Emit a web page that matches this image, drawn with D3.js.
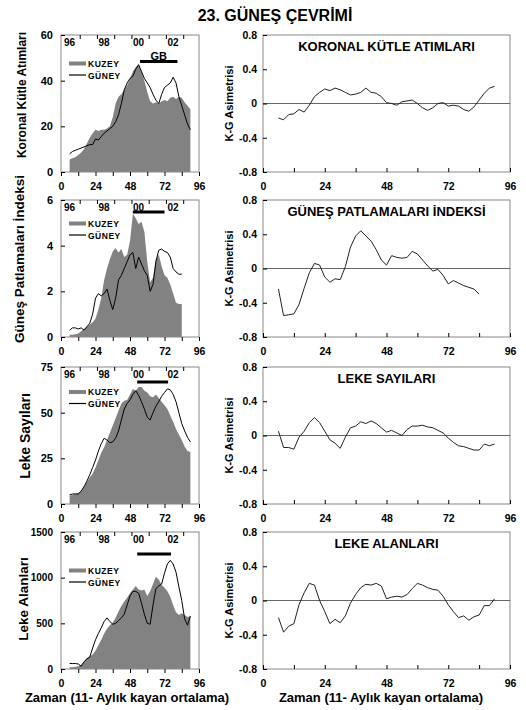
<!DOCTYPE html>
<html>
<head>
<meta charset="utf-8">
<script src="https://cdn.jsdelivr.net/npm/d3@7"></script>
<style>
body { margin: 0; background: #fff; }
svg { display: block; font-family: "Liberation Sans", Arial, sans-serif; font-weight: bold; }
</style>
</head>
<body>
<div class="container"></div>
<script>
const w = 526;
const h = 710;

// months from start of cycle (11-month running mean)
const months = [6, 8, 10, 12, 14, 16, 18, 20, 22, 24, 26, 28, 30, 32, 34, 36, 38, 40, 42, 44, 46, 48,
    50, 52, 54, 56, 58, 60, 62, 64, 66, 68, 70, 72, 74, 76, 78, 80, 82, 84, 86, 88, 90];
const monthsFlare = months.slice(0, 40);

const xTicks = [0, 24, 48, 72, 96];
const xMinorTicks = [0, 12, 24, 36, 48, 60, 72, 84, 96];
const topTicks = [13, 25, 37, 49, 61, 73, 85];
const yearLabels = ['96', '98', '00', '02'];
const yearMonths = [6, 30, 54, 78];
const asymTicks = [-0.8, -0.4, 0, 0.4, 0.8];

// koronal kütle atımları
const cmeNorth = [5.5, 6, 6.5, 7.5, 8.5, 10, 12.5, 15, 17, 18.5, 18, 18.5, 18.5, 19, 20, 24, 30, 33, 34, 36, 38, 41,
    44, 46, 47, 44, 40, 35, 31, 30, 30.5, 30, 31, 31.5, 31, 32.5, 33, 32, 33, 32.5, 30.5, 29, 27.5];
const cmeSouth = [8, 9, 9.5, 10, 10.5, 11, 11.5, 12, 12, 14.5, 14, 15.5, 17, 18, 19, 20, 22, 25, 30, 36, 39, 41,
    42, 45, 47, 44, 41, 39, 37, 34, 31.5, 30, 34, 37, 38, 39, 41.5, 39, 33, 29, 25, 21, 18.5];
const cmeAsym = [-0.17, -0.19, -0.13, -0.12, -0.07, -0.10, -0.02, 0.08, 0.13, 0.17, 0.15, 0.18, 0.16, 0.13, 0.10,
    0.11, 0.13, 0.18, 0.13, 0.12, 0.08, 0.01, 0.00, -0.02, 0.02, 0.03, 0.04, 0.00, -0.05, -0.08, -0.05, 0.00,
    0.01, -0.03, -0.02, -0.03, -0.07, -0.09, -0.04, 0.04, 0.12, 0.18, 0.20];
const cmeTicks = [0, 20, 40, 60];
const cmeBar = [55, 81];

// güneş patlamaları indeksi
const flareNorth = [0.1, 0.1, 0.12, 0.15, 0.25, 0.35, 0.45, 0.55, 0.65, 0.8, 1.2, 1.7, 2.5, 3.0, 3.4, 3.75, 3.9,
    3.7, 3.85, 3.5, 3.6, 4.2, 5.4, 5.2, 4.95, 5.05, 4.6, 3.3, 2.4, 2.6, 3.4, 3.6, 3.1, 2.7, 2.6, 2.3, 1.9, 1.5,
    1.45, 1.45];
const flareSouth = [0.3, 0.4, 0.4, 0.35, 0.4, 0.3, 0.45, 0.6, 1.0, 1.7, 1.9, 1.8, 1.9, 2.1, 1.6, 1.2, 1.7, 2.5,
    2.7, 3.0, 3.3, 3.6, 3.7, 3.0, 3.5, 3.2, 2.9, 2.7, 2.0, 2.3, 3.3, 3.8, 3.85, 3.75, 3.7, 3.5, 3.0, 2.85, 2.75,
    2.75];
const flareAsym = [-0.24, -0.55, -0.54, -0.53, -0.42, -0.23, -0.05, 0.06, 0.04, -0.10, -0.16, -0.12, -0.13, 0.02,
    0.25, 0.38, 0.44, 0.38, 0.32, 0.22, 0.10, 0.04, 0.15, 0.13, 0.12, 0.13, 0.20, 0.17, 0.10, 0.03, -0.03, -0.01,
    -0.08, -0.18, -0.14, -0.17, -0.20, -0.22, -0.24, -0.30];
const flareTicks = [0, 2, 4, 6];
const flareBar = [50, 72];

// leke sayıları
const spotNorth = [4.5, 5, 5.5, 6, 7, 9.5, 12, 14.5, 16.5, 20, 24, 28, 31, 35, 39, 43, 47, 51, 55, 56.5, 57, 60,
    63, 62, 64, 64, 62, 61, 59, 58.5, 60, 58, 56, 54, 52, 48.5, 45, 41, 38, 35, 31.5, 29, 28.5];
const spotSouth = [5, 5.5, 5.5, 5.5, 7, 9.5, 12.5, 16, 20, 24, 29, 33, 36, 35, 33.5, 34, 36, 40, 46, 52, 55, 57,
    60, 62, 59.5, 56, 52, 47.5, 46, 50, 53.5, 56, 59, 61, 63, 62.5, 60, 56, 50, 44, 40, 36.5, 34];
const spotAsym = [0.05, -0.14, -0.14, -0.16, -0.02, 0.05, 0.15, 0.21, 0.15, 0.05, -0.05, -0.09, -0.15, -0.02,
    0.09, 0.11, 0.16, 0.14, 0.17, 0.14, 0.09, 0.04, 0.06, 0.03, 0.00, 0.07, 0.11, 0.11, 0.12, 0.10, 0.09, 0.06,
    0.03, -0.03, -0.08, -0.12, -0.13, -0.15, -0.17, -0.17, -0.10, -0.12, -0.10];
const spotTicks = [0, 25, 50, 75];
const spotBar = [53, 74.5];

// leke alanları
const areaNorth = [20, 20, 25, 30, 45, 80, 120, 140, 160, 200, 260, 320, 390, 440, 480, 510, 560, 630, 690, 740,
    780, 830, 870, 910, 870, 860, 870, 800, 850, 930, 1010, 980, 920, 890, 850, 790, 700, 620, 590, 610, 590,
    570, 580];
const areaSouth = [60, 60, 60, 55, 30, 80, 110, 130, 230, 320, 390, 450, 520, 560, 520, 490, 500, 530, 560, 600,
    700, 800, 850, 850, 830, 720, 600, 500, 490, 700, 880, 910, 930, 1050, 1150, 1190, 1150, 1060, 900, 750,
    550, 480, 580];
const areaAsym = [-0.2, -0.37, -0.3, -0.27, -0.05, 0.09, 0.2, 0.18, 0.0, -0.13, -0.27, -0.22, -0.26, -0.18, -0.03,
    0.07, 0.15, 0.19, 0.18, 0.2, 0.17, 0.02, 0.04, 0.05, 0.04, 0.07, 0.14, 0.2, 0.18, 0.15, 0.13, 0.12, 0.05,
    -0.05, -0.13, -0.2, -0.18, -0.23, -0.19, -0.17, -0.06, -0.06, 0.02];
const areaTicks = [0, 500, 1000, 1500];
const areaBar = [53, 76.5];

const rows = [
    { label: 'Koronal Kütle Atımları', title: 'KORONAL KÜTLE ATIMLARI', x: months, north: cmeNorth, south: cmeSouth, asym: cmeAsym, yTicks: cmeTicks, bar: cmeBar, gb: true },
    { label: 'Güneş Patlamaları İndeksi', title: 'GÜNEŞ PATLAMALARI İNDEKSİ', x: monthsFlare, north: flareNorth, south: flareSouth, asym: flareAsym, yTicks: flareTicks, bar: flareBar },
    { label: 'Leke Sayıları', title: 'LEKE SAYILARI', x: months, north: spotNorth, south: spotSouth, asym: spotAsym, yTicks: spotTicks, bar: spotBar },
    { label: 'Leke Alanları', title: 'LEKE ALANLARI', x: months, north: areaNorth, south: areaSouth, asym: areaAsym, yTicks: areaTicks, bar: areaBar }
];

// where each row sits on the page
const layout = [
    { top: 35, labelX: 21.5, labelY: 95, labelSize: 12, tickSize: 11, legY: 28.5, barY: 26.5 },
    { top: 200, labelX: 19.5, labelY: 259, labelSize: 13.5, tickSize: 11, legY: 23.5, barY: 12 },
    { top: 367, labelX: 25, labelY: 436, labelSize: 14, tickSize: 11, legY: 25, barY: 15 },
    { top: 532, labelX: 23.5, labelY: 599, labelSize: 13.5, tickSize: 10, legY: 38.5, barY: 22 }
];
const panelH = 137;
const frameColor = '#888';

const svg = d3.select('.container')
    .append('svg')
    .attr('width', w)
    .attr('height', h);

svg.append('text')
    .attr('x', 275)
    .attr('y', 21)
    .attr('text-anchor', 'middle')
    .style('font-size', '16px')
    .text('23. GÜNEŞ ÇEVRİMİ');

const xL = d3.scaleLinear().domain([0, 96]).range([61, 199]);
const xR = d3.scaleLinear().domain([0, 96]).range([263, 510]);

function styleAxis(g, size) {
    g.select('.domain').remove();
    g.selectAll('.tick line').attr('stroke', '#000');
    g.selectAll('text')
        .attr('font-family', '"Liberation Sans", Arial, sans-serif')
        .attr('font-weight', 'bold')
        .attr('font-size', size)
        .attr('fill', '#000');
}

rows.forEach((r, i) => {
    const L = layout[i];
    const top = L.top;
    const bottom = top + panelH;
    const yMax = r.yTicks[r.yTicks.length - 1];
    const y = d3.scaleLinear().domain([0, yMax]).range([bottom, top]);
    const ya = d3.scaleLinear().domain([-0.8, 0.8]).range([bottom, top]);

    // ---- left panel: north (area) and south (line)
    const gl = svg.append('g');

    gl.append('path')
        .datum(r.north)
        .attr('fill', '#828282')
        .attr('d', d3.area()
            .x((d, j) => xL(r.x[j]))
            .y0(bottom)
            .y1(d => y(d)));

    gl.append('path')
        .datum(r.south)
        .attr('fill', 'none')
        .attr('stroke', '#000')
        .attr('stroke-width', 1)
        .attr('d', d3.line()
            .x((d, j) => xL(r.x[j]))
            .y(d => y(d)));

    gl.append('rect')
        .attr('x', xL(0))
        .attr('y', top)
        .attr('width', xL(96) - xL(0))
        .attr('height', panelH)
        .attr('fill', 'none')
        .attr('stroke', frameColor);

    gl.append('g')
        .attr('transform', `translate(0,${bottom})`)
        .call(d3.axisBottom(xL)
            .tickValues(xMinorTicks)
            .tickFormat(d => xTicks.includes(d) ? d : '')
            .tickSizeInner(4)
            .tickSizeOuter(0)
            .tickPadding(7))
        .call(g => styleAxis(g, 10.5));

    gl.append('g')
        .attr('transform', `translate(0,${top})`)
        .call(d3.axisTop(xL)
            .tickValues(topTicks)
            .tickFormat('')
            .tickSizeInner(-4)
            .tickSizeOuter(0))
        .call(g => styleAxis(g, 10));

    gl.append('g')
        .attr('transform', `translate(${xL(0)},0)`)
        .call(d3.axisLeft(y)
            .tickValues(r.yTicks)
            .tickFormat(d => d)
            .tickSizeInner(-4)
            .tickSizeOuter(0)
            .tickPadding(8))
        .call(g => styleAxis(g, L.tickSize));

    // years along the top
    gl.selectAll('.year')
        .data(yearLabels)
        .join('text')
        .attr('x', (d, k) => xL(yearMonths[k]))
        .attr('y', top + 10.5)
        .attr('text-anchor', 'middle')
        .style('font-size', '10px')
        .text(d => d);

    // maximum period bar
    gl.append('line')
        .attr('x1', xL(r.bar[0]))
        .attr('x2', xL(r.bar[1]))
        .attr('y1', top + L.barY)
        .attr('y2', top + L.barY)
        .attr('stroke', '#000')
        .attr('stroke-width', 3);

    if (r.gb) {
        gl.append('text')
            .attr('x', xL((r.bar[0] + r.bar[1]) / 2))
            .attr('y', top + L.barY - 2)
            .attr('text-anchor', 'middle')
            .style('font-size', '11px')
            .text('GB');
    }

    // legend
    const ly = top + L.legY;
    gl.append('rect')
        .attr('x', 69)
        .attr('y', ly - 2)
        .attr('width', 17)
        .attr('height', 4)
        .attr('fill', '#828282');
    gl.append('text')
        .attr('x', 88)
        .attr('y', ly + 3)
        .style('font-size', '8.5px')
        .style('letter-spacing', '0.5px')
        .text('KUZEY');
    gl.append('line')
        .attr('x1', 69)
        .attr('x2', 86)
        .attr('y1', ly + 11.5)
        .attr('y2', ly + 11.5)
        .attr('stroke', '#000')
        .attr('stroke-width', 1.2);
    gl.append('text')
        .attr('x', 88)
        .attr('y', ly + 15)
        .style('font-size', '8.5px')
        .style('letter-spacing', '0.5px')
        .text('GÜNEY');

    gl.append('text')
        .attr('transform', `translate(${L.labelX},${L.labelY}) rotate(-90)`)
        .attr('dy', '0.35em')
        .attr('text-anchor', 'middle')
        .style('font-size', L.labelSize + 'px')
        .text(r.label);

    // ---- right panel: K-G asymmetry
    const gr = svg.append('g');

    gr.append('rect')
        .attr('x', xR(0))
        .attr('y', top)
        .attr('width', xR(96) - xR(0))
        .attr('height', panelH)
        .attr('fill', 'none')
        .attr('stroke', frameColor);

    gr.append('line')
        .attr('x1', xR(0))
        .attr('x2', xR(96))
        .attr('y1', ya(0))
        .attr('y2', ya(0))
        .attr('stroke', '#666')
        .attr('stroke-width', 1.2);

    gr.append('path')
        .datum(r.asym)
        .attr('fill', 'none')
        .attr('stroke', '#222')
        .attr('stroke-width', 1)
        .attr('d', d3.line()
            .x((d, j) => xR(r.x[j]))
            .y(d => ya(d)));

    gr.append('g')
        .attr('transform', `translate(0,${bottom})`)
        .call(d3.axisBottom(xR)
            .tickValues(xMinorTicks)
            .tickFormat(d => xTicks.includes(d) ? d : '')
            .tickSizeInner(-4)
            .tickSizeOuter(0)
            .tickPadding(11))
        .call(g => styleAxis(g, 10.5));

    gr.append('g')
        .attr('transform', `translate(${xR(0)},0)`)
        .call(d3.axisLeft(ya)
            .tickValues(asymTicks)
            .tickFormat(d => String(d))
            .tickSizeInner(-4)
            .tickSizeOuter(0)
            .tickPadding(6))
        .call(g => styleAxis(g, 10.5));

    gr.append('text')
        .attr('x', (xR(0) + xR(96)) / 2)
        .attr('y', top + 15.5)
        .attr('text-anchor', 'middle')
        .style('font-size', '13px')
        .text(r.title);

    gr.append('text')
        .attr('transform', `translate(229,${top + panelH / 2}) rotate(-90)`)
        .attr('dy', '0.35em')
        .attr('text-anchor', 'middle')
        .style('font-size', '11px')
        .text('K-G Asimetrisi');
});

// time axis titles
[127, 381].forEach(cx => {
    svg.append('text')
        .attr('x', cx)
        .attr('y', 702)
        .attr('text-anchor', 'middle')
        .style('font-size', '13px')
        .text('Zaman (11- Aylık kayan ortalama)');
});
</script>
</body>
</html>
